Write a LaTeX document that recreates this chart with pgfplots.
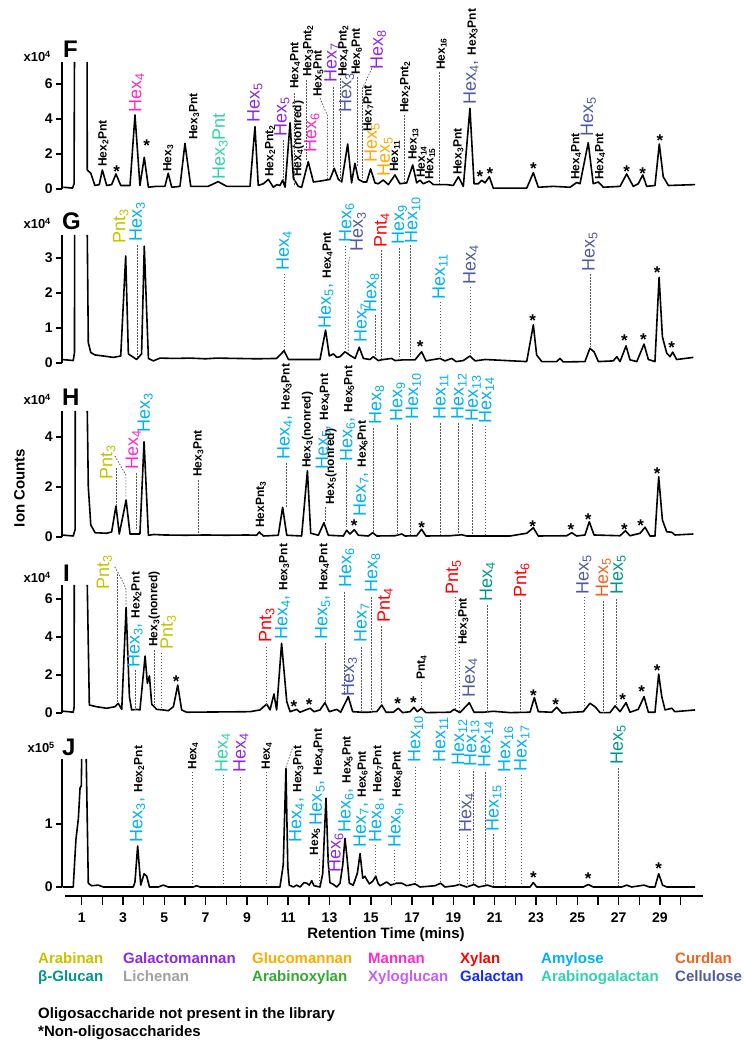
\documentclass[border=0pt]{standalone}
\usepackage{fontspec}
\setmainfont{Liberation Sans}
\usepackage{pgfplots}
\pgfplotsset{compat=1.18}
\definecolor{arab}{RGB}{195,195,0}
\definecolor{galm}{RGB}{140,40,230}
\definecolor{glum}{RGB}{255,170,0}
\definecolor{mann}{RGB}{255,40,200}
\definecolor{xyl}{RGB}{255,0,0}
\definecolor{amy}{RGB}{0,176,240}
\definecolor{curd}{RGB}{240,100,30}
\definecolor{bglu}{RGB}{0,150,140}
\definecolor{lich}{RGB}{160,160,160}
\definecolor{arx}{RGB}{50,170,50}
\definecolor{xyg}{RGB}{200,90,255}
\definecolor{galt}{RGB}{20,40,255}
\definecolor{arg}{RGB}{50,210,170}
\definecolor{cell}{RGB}{80,90,160}
\newcommand{\hx}[1]{Hex\textsubscript{#1}}
\newcommand{\pnt}[1]{Pnt\textsubscript{#1}}
\newcommand{\smf}{\bfseries\fontsize{12bp}{12bp}\selectfont}
\tikzset{
 sl/.style={rotate=90, anchor=west, inner sep=0pt, font=\bfseries\fontsize{12bp}{12bp}\selectfont},
 lg/.style={rotate=90, anchor=west, inner sep=0pt, font=\fontsize{18bp}{18bp}\selectfont},
 st/.style={inner sep=0pt, yshift=-3.5bp, font=\bfseries\fontsize{17bp}{17bp}\selectfont},
 ld/.style={gray!70!black, line width=0.7bp, dash pattern=on 1.6bp off 1.4bp},
}
\newcommand{\SL}[3]{\node[sl] at (axis cs:#1,#2) {#3};}
\newcommand{\LG}[4]{\node[lg,text=#1] at (axis cs:#2,#3) {#4};}
\newcommand{\MX}[5]{\node[lg,text=#1] at (axis cs:#2,#3) {#4, {\smf\color{black}#5}};}
\newcommand{\ST}[2]{\node[st] at (axis cs:#1,#2) {*};}
\newcommand{\VL}[3]{\draw[ld] (axis cs:#1,#2) -- (axis cs:#1,#3);}
\pgfplotsset{
 pan/.style={
  scale only axis, width=641.2bp, xmin=0.05, xmax=31.1, ymin=0,
  axis y line=left, axis x line=none, clip=false, xtick=\empty,
  y axis line style={-, line width=1.5bp},
  tick align=outside, major tick length=6bp,
  tick style={line width=1.5bp, black},
  yticklabel style={font=\bfseries\fontsize{14bp}{14bp}\selectfont},
  anchor=south west,
 },
 tr/.style={black, line width=1.6bp, mark=none, line join=round},
}
\begin{document}
\begin{tikzpicture}
\path[use as bounding box] (0,0) rectangle (744bp,1050bp);

% ---------------- F ----------------
\begin{axis}[pan, at={(62.08bp,861bp)}, height=127bp, ymax=7.26, ytick={0,2,4,6}, yticklabels={0,2,4,6}]
\addplot[tr] coordinates {(0.11,0.1) (0.56,0.05) (0.63,0.3) (0.65,7.26)};
\addplot[tr] coordinates {(1.26,7.26) (1.27,1.08) (1.44,0.9) (1.64,0.2) (1.85,0.25) (2.0,1.09) (2.21,0.2) (2.45,0.25) (2.66,0.86) (2.89,0.2) (3.34,0.2) (3.58,4.23) (3.82,0.2) (4.03,1.81) (4.23,0.1) (4.6,0.15) (5.03,0.15) (5.19,0.9) (5.36,0.1) (5.76,0.15) (6.0,2.61) (6.28,0.15) (7.12,0.15) (7.61,0.42) (8.02,0.15) (9.15,0.15) (9.39,3.56) (9.55,0.2) (9.8,0.3) (10.04,0.55) (10.28,0.1) (10.45,0.25) (10.6,0.2) (10.73,0.5) (10.85,0.1) (11.09,3.79) (11.25,0.6) (11.49,0.15) (11.65,0.1) (11.97,1.56) (12.22,0.4) (12.54,0.45) (13.02,0.55) (13.23,1.18) (13.43,0.55) (13.59,0.4) (13.88,2.57) (14.07,0.35) (14.23,1.47) (14.4,0.55) (14.64,0.4) (14.8,0.4) (14.99,1.15) (15.2,0.35) (15.36,0.3) (15.6,0.51) (15.85,0.25) (16.17,0.8) (16.41,0.3) (16.74,0.35) (17.03,1.37) (17.22,0.35) (17.38,0.5) (17.54,0.3) (17.83,0.45) (18.03,0.25) (18.68,0.25) (18.99,0.2) (19.24,0.7) (19.48,0.15) (19.8,4.61) (20.0,0.3) (20.21,0.3) (20.37,0.5) (20.53,0.35) (20.74,0.7) (20.93,0.05) (22.55,0.05) (22.87,0.93) (23.11,0.1) (23.84,0.15) (24.65,0.1) (24.97,0.37) (25.13,0.3) (25.53,2.65) (25.77,0.3) (26.02,0.4) (26.26,0.1) (27.07,0.15) (27.39,0.86) (27.71,0.15) (27.95,0.3) (28.17,0.8) (28.36,0.15) (28.76,0.2) (28.97,2.57) (29.16,0.7) (29.41,0.2) (30.7,0.25)};
\SL{2.05}{1.26}{\hx{2}Pnt}
\ST{2.69}{1.2}
\LG{mann}{3.66}{4.34}{\hx{4}}
\ST{4.15}{2.69}
\SL{5.19}{0.97}{\hx{3}}
\SL{6.45}{2.8}{\hx{3}Pnt}
\LG{arg}{7.7}{0.51}{\hx{3}Pnt}
\LG{galm}{9.39}{3.77}{\hx{5}}
\SL{10.12}{0.69}{\hx{2}\pnt{2}}
\LG{galm}{10.69}{2.97}{\hx{5}}
\VL{10.75}{2.8}{0.4}
\SL{11.49}{0.69}{\hx{4}(nonred)}
\SL{11.33}{5.71}{\hx{4}Pnt}
\VL{11.3}{5.49}{0.23}
\LG{mann}{12.14}{2.06}{\hx{6}}
\SL{11.97}{6.4}{\hx{3}\pnt{2}}
\VL{11.86}{6.23}{1.66}
\SL{12.46}{5.26}{\hx{5}Pnt}
\draw[ld] (axis cs:12.54,5.2) -- (axis cs:12.9,4.2) -- (axis cs:12.9,0.45);
\LG{galm}{13.11}{6.06}{\hx{7}}
\VL{13.18}{5.83}{1.26}
\SL{13.67}{6.4}{\hx{4}\pnt{2}}
\VL{13.54}{6.34}{0.4}
\LG{cell}{13.83}{4.34}{\hx{3}}
\SL{14.32}{6.51}{\hx{6}Pnt}
\VL{14.36}{6.4}{1.26}
\LG{galm}{15.36}{6.8}{\hx{8}}
\draw[ld] (axis cs:15.05,6.9) -- (axis cs:14.6,5.75) -- (axis cs:14.6,0.6);
\SL{14.88}{3.26}{\hx{7}Pnt}
\LG{glum}{15.06}{1.49}{\hx{5}}
\LG{glum}{15.69}{0.69}{\hx{5}}
\SL{16.17}{0.97}{\hx{11}}
\SL{16.66}{4.34}{\hx{2}\pnt{2}}
\VL{16.62}{4.23}{0.34}
\SL{17.06}{1.66}{\hx{13}}
\SL{17.46}{0.63}{\hx{14}}
\SL{17.87}{0.51}{\hx{15}}
\SL{18.43}{6.8}{\hx{16}}
\VL{18.32}{6.69}{0.34}
\SL{19.24}{0.8}{\hx{3}Pnt}
\MX{cell}{19.85}{4.8}{\hx{4}}{\hx{3}Pnt}
\ST{20.29}{0.91}
\ST{20.77}{1.09}
\ST{22.87}{1.37}
\SL{24.94}{0.51}{\hx{4}Pnt}
\LG{cell}{25.53}{2.97}{\hx{5}}
\SL{26.1}{0.51}{\hx{4}Pnt}
\ST{27.39}{1.2}
\ST{28.17}{1.09}
\ST{29.0}{2.97}
\end{axis}

% ---------------- G ----------------
\begin{axis}[pan, at={(62.08bp,687bp)}, height=128bp, ymax=3.66, ytick={0,1,2,3}, yticklabels={0,1,2,3}]
\addplot[tr] coordinates {(0.03,0.1) (0.59,0.07) (0.65,0.3) (0.66,3.66)};
\addplot[tr] coordinates {(1.27,3.66) (1.32,0.58) (1.44,0.3) (1.64,0.23) (2.05,0.2) (2.53,0.16) (2.89,0.2) (3.13,3.06) (3.26,0.26) (3.66,0.1) (3.9,0.26) (4.03,3.34) (4.23,0.13) (4.47,0.06) (4.79,0.14) (5.5,0.13) (6.25,0.14) (7.0,0.12) (7.53,0.14) (8.5,0.13) (9.5,0.12) (10.44,0.13) (10.8,0.35) (11.01,0.1) (12.54,0.1) (12.81,0.94) (12.99,0.2) (13.19,0.26) (13.35,0.16) (13.51,0.18) (13.75,0.32) (13.99,0.22) (14.24,0.13) (14.44,0.45) (14.64,0.13) (14.96,0.1) (15.12,0.18) (15.36,0.07) (15.61,0.1) (16.01,0.13) (16.17,0.07) (16.57,0.09) (16.82,0.09) (17.14,0.09) (17.46,0.32) (17.67,0.06) (17.95,0.09) (18.35,0.13) (18.59,0.06) (18.92,0.13) (19.13,0.04) (19.48,0.07) (19.8,0.2) (20.05,0.06) (20.53,0.1) (22.55,0.04) (22.87,1.09) (23.03,0.23) (23.28,0.04) (24.0,0.04) (24.16,0.13) (24.32,0.03) (25.37,0.04) (25.61,0.42) (25.81,0.32) (26.02,0.04) (26.74,0.06) (26.91,0.18) (27.07,0.04) (27.36,0.49) (27.55,0.09) (27.88,0.04) (28.23,0.54) (28.44,0.1) (28.76,0.04) (28.96,2.45) (29.12,0.75) (29.33,0.28) (29.49,0.18) (29.62,0.31) (29.81,0.1) (30.62,0.16)};
\LG{arab}{2.89}{3.42}{\pnt{3}}
\LG{amy}{3.69}{3.47}{\hx{3}}
\VL{3.71}{3.37}{0.17}
\LG{amy}{10.8}{2.63}{\hx{4}}
\VL{10.8}{2.55}{0.37}
\MX{amy}{12.83}{0.99}{\hx{5}}{\hx{4}Pnt}
\LG{amy}{13.83}{3.43}{\hx{6}}
\VL{13.75}{3.35}{0.3}
\LG{cell}{14.39}{3.17}{\hx{3}}
\draw[ld] (axis cs:13.99,3.04) -- (axis cs:13.91,2.85) -- (axis cs:13.91,0.28);
\LG{amy}{14.56}{0.58}{\hx{7}}
\LG{amy}{15.04}{1.43}{\hx{8}}
\VL{15.2}{1.37}{0.17}
\LG{xyl}{15.53}{3.29}{\pnt{4}}
\VL{15.53}{3.23}{0.14}
\LG{amy}{16.38}{3.37}{\hx{9}}
\VL{16.38}{3.29}{0.17}
\LG{amy}{17.03}{3.42}{\hx{10}}
\VL{16.93}{3.37}{0.17}
\LG{amy}{18.35}{1.8}{\hx{11}}
\VL{18.35}{1.75}{0.18}
\LG{cell}{19.84}{2.23}{\hx{4}}
\VL{19.84}{2.18}{0.28}
\LG{cell}{25.61}{2.6}{\hx{5}}
\VL{25.61}{2.54}{0.47}
\ST{17.39}{0.56}
\ST{22.84}{1.31}
\ST{27.28}{0.73}
\ST{28.2}{0.78}
\ST{28.87}{2.69}
\ST{29.57}{0.54}
\end{axis}

% ---------------- H ----------------
\begin{axis}[pan, at={(62.08bp,513bp)}, height=126bp, ymax=5.04, ytick={0,2,4}, yticklabels={0,2,4}]
\addplot[tr] coordinates {(0.03,0.08) (0.59,0.04) (0.68,0.3) (0.69,5.04)};
\addplot[tr] coordinates {(1.27,5.04) (1.32,2.01) (1.44,0.48) (1.65,0.17) (2.21,0.15) (2.45,0.2) (2.66,1.24) (2.82,0.12) (3.15,1.48) (3.34,0.12) (3.82,0.12) (4.02,3.81) (4.23,0.07) (4.5,0.1) (5.0,0.08) (6.0,0.07) (7.0,0.08) (8.0,0.07) (9.0,0.08) (9.47,0.07) (9.6,0.2) (9.8,0.04) (10.52,0.07) (10.73,1.19) (10.93,0.07) (11.65,0.04) (11.93,2.65) (12.09,0.15) (12.46,0.07) (12.73,0.57) (12.94,0.07) (13.67,0.04) (13.83,0.27) (13.99,0.12) (14.2,0.29) (14.4,0.07) (14.88,0.04) (15.09,0.17) (15.29,0.04) (16.17,0.05) (16.5,0.12) (16.66,0.04) (17.22,0.05) (17.46,0.31) (17.67,0.04) (18.84,0.05) (19.4,0.09) (19.64,0.04) (21.74,0.04) (22.55,0.15) (22.87,0.37) (23.11,0.04) (24.49,0.05) (24.73,0.17) (24.97,0.04) (25.37,0.08) (25.58,0.61) (25.81,0.08) (27.07,0.05) (27.33,0.25) (27.55,0.05) (28.04,0.15) (28.28,0.39) (28.52,0.04) (28.76,0.04) (28.94,2.41) (29.12,0.68) (29.33,0.21) (29.57,0.19) (29.73,0.08) (30.62,0.12)};
\LG{arab}{2.26}{2.28}{\pnt{3}}
\VL{2.7}{2.76}{1.3}
\draw[ld] (axis cs:2.61,3.24) -- (axis cs:3.14,2.48) -- (axis cs:3.14,1.55);
\LG{mann}{3.5}{2.68}{\hx{4}}
\VL{3.63}{2.55}{0.28}
\LG{amy}{4.07}{4.16}{\hx{3}}
\SL{6.65}{2.4}{\hx{3}Pnt}
\VL{6.65}{2.28}{0.08}
\SL{9.68}{0.36}{Hex\pnt{3}}
\MX{amy}{10.84}{3.08}{\hx{4}}{\hx{3}Pnt}
\VL{10.89}{2.96}{1.2}
\SL{11.93}{2.76}{\hx{3}(nonred)}
\MX{amy}{12.7}{2.68}{\hx{5}}{\hx{4}Pnt}
\SL{13.07}{1.28}{\hx{5}(nonred)}
\VL{12.78}{1.2}{0.62}
\MX{amy}{13.88}{3.0}{\hx{6}}{\hx{5}Pnt}
\VL{13.83}{2.96}{0.4}
\MX{amy}{14.53}{0.8}{\hx{7}}{\hx{6}Pnt}
\ST{14.19}{0.61}
\LG{amy}{15.28}{4.48}{\hx{8}}
\VL{15.12}{4.36}{0.16}
\LG{amy}{16.3}{4.6}{\hx{9}}
\VL{16.3}{4.48}{0.08}
\LG{amy}{17.06}{4.68}{\hx{10}}
\VL{16.93}{4.56}{0.08}
\LG{amy}{18.39}{4.68}{\hx{11}}
\VL{18.38}{4.56}{0.08}
\LG{amy}{19.27}{4.68}{\hx{12}}
\VL{19.22}{4.56}{0.08}
\LG{amy}{19.96}{4.61}{\hx{13}}
\VL{19.9}{4.5}{0.08}
\LG{amy}{20.61}{4.55}{\hx{14}}
\VL{20.53}{4.45}{0.08}
\ST{17.46}{0.52}
\ST{22.84}{0.55}
\ST{24.69}{0.45}
\ST{25.53}{0.85}
\ST{27.28}{0.45}
\ST{28.07}{0.61}
\ST{28.87}{2.68}
\end{axis}

% ---------------- I ----------------
\begin{axis}[pan, at={(62.08bp,337bp)}, height=128bp, ymax=6.74, ytick={0,2,4,6}, yticklabels={0,2,4,6}]
\addplot[tr] coordinates {(0.03,0.1) (0.35,0.07) (0.59,0.04) (0.63,0.3) (0.64,6.74)};
\addplot[tr] coordinates {(1.27,6.74) (1.37,0.42) (1.72,0.33) (2.21,0.25) (2.61,0.33) (2.77,0.51) (2.94,0.19) (3.15,5.56) (3.31,0.86) (3.42,0.16) (3.66,0.19) (3.82,0.16) (4.07,3.0) (4.18,1.56) (4.28,1.95) (4.39,0.47) (4.63,0.19) (4.95,0.16) (5.19,0.12) (5.44,0.33) (5.65,1.47) (5.84,0.16) (6.08,0.04) (9.15,0.07) (9.63,0.16) (9.96,0.47) (10.12,0.16) (10.31,1.0) (10.44,0.16) (10.68,3.67) (10.93,0.6) (11.09,0.07) (11.41,0.19) (11.57,0.04) (12.06,0.25) (12.25,0.07) (12.54,0.16) (12.78,0.54) (12.99,0.07) (13.35,0.19) (13.54,0.04) (13.91,0.86) (14.12,0.07) (14.56,0.04) (14.88,0.04) (15.12,0.07) (15.29,0.07) (15.53,0.42) (15.74,0.04) (16.09,0.04) (16.33,0.25) (16.54,0.02) (16.9,0.07) (17.09,0.3) (17.25,0.07) (17.46,0.25) (17.67,0.02) (18.84,0.04) (19.03,0.19) (19.32,0.02) (19.77,0.54) (20.0,0.04) (20.45,0.04) (20.93,0.09) (21.74,0.02) (22.71,0.04) (22.92,0.81) (23.11,0.07) (23.76,0.04) (24.0,0.3) (24.25,0.0) (25.29,0.07) (25.61,0.51) (25.86,0.33) (26.1,0.02) (26.58,0.02) (26.83,0.37) (27.07,0.07) (27.36,0.54) (27.55,0.04) (27.95,0.19) (28.23,0.86) (28.44,0.04) (28.76,0.04) (28.94,2.05) (29.09,0.86) (29.25,0.16) (29.57,0.25) (29.73,0.07) (30.7,0.16)};
\LG{arab}{2.1}{6.47}{\pnt{3}}
\draw[ld] (axis cs:2.6,7.7) -- (axis cs:3.0,6.9) -- (axis cs:3.15,6.5) -- (axis cs:3.15,5.7);
\VL{2.72}{7.3}{0.53}
\MX{amy}{3.58}{2.37}{\hx{3}}{\hx{2}Pnt}
\VL{3.58}{2.26}{0.16}
\SL{4.52}{3.47}{\hx{3}(nonred)}
\VL{4.51}{3.32}{0.42}
\LG{arab}{5.19}{3.32}{\pnt{3}}
\VL{4.87}{3.18}{0.2}
\ST{5.57}{1.86}
\LG{xyl}{9.96}{3.68}{\pnt{3}}
\VL{9.96}{3.49}{0.42}
\MX{amy}{10.73}{3.84}{\hx{4}}{\hx{3}Pnt}
\ST{11.28}{0.54}
\ST{12.02}{0.6}
\MX{amy}{12.67}{3.84}{\hx{5}}{\hx{4}Pnt}
\VL{12.78}{3.68}{0.58}
\LG{amy}{13.83}{6.58}{\hx{6}}
\VL{13.72}{6.37}{0.95}
\LG{cell}{13.96}{0.84}{\hx{3}}
\LG{amy}{14.56}{3.68}{\hx{7}}
\VL{14.56}{3.47}{0.05}
\LG{amy}{15.09}{6.32}{\hx{8}}
\VL{15.04}{6.1}{0.05}
\LG{xyl}{15.69}{4.74}{\pnt{4}}
\VL{15.53}{4.58}{0.42}
\ST{16.3}{0.65}
\ST{17.06}{0.72}
\SL{17.46}{1.74}{\pnt{4}}
\VL{17.43}{1.65}{0.33}
\LG{xyl}{19.0}{6.21}{\pnt{5}}
\VL{19.08}{6.12}{0.16}
\SL{19.48}{3.58}{\hx{3}Pnt}
\VL{19.28}{3.49}{0.16}
\LG{cell}{19.8}{0.79}{\hx{4}}
\LG{bglu}{20.64}{5.84}{\hx{4}}
\VL{20.66}{5.68}{0.05}
\LG{xyl}{22.31}{6.05}{\pnt{6}}
\VL{22.23}{5.95}{0.05}
\ST{22.87}{1.12}
\ST{23.95}{0.6}
\LG{cell}{25.32}{6.21}{\hx{5}}
\VL{25.32}{6.12}{0.16}
\LG{curd}{26.26}{6.05}{\hx{5}}
\VL{26.26}{5.9}{0.05}
\LG{bglu}{26.98}{6.21}{\hx{5}}
\VL{26.91}{6.0}{0.44}
\ST{27.2}{0.89}
\ST{28.12}{1.3}
\ST{28.87}{2.4}
\end{axis}

% ---------------- J ----------------
\begin{axis}[pan, at={(62.08bp,163bp)}, height=128bp, ymax=2.03, ytick={0,1}, yticklabels={0,1}]
\addplot[tr] coordinates {(0.08,0.0) (0.59,0.0) (0.72,0.75) (0.84,1.09) (0.92,1.57) (0.98,1.6) (1.0,2.03)};
\addplot[tr] coordinates {(1.22,2.03) (1.32,0.06) (1.48,0.02) (1.8,0.03) (2.05,0.0) (3.5,0.0) (3.58,0.08) (3.71,0.65) (3.86,0.03) (4.02,0.21) (4.15,0.17) (4.28,0.0) (4.71,0.0) (4.95,0.03) (5.19,0.0) (6.4,0.0) (6.57,0.02) (6.73,0.0) (10.6,0.0) (10.76,0.35) (10.89,1.88) (10.98,0.32) (11.05,0.03) (11.25,0.0) (11.41,0.03) (11.57,0.0) (11.77,0.07) (11.9,0.06) (12.02,0.03) (12.14,0.1) (12.25,0.02) (12.54,0.0) (12.67,0.21) (12.83,1.41) (12.94,0.38) (13.02,0.07) (13.19,0.04) (13.35,0.0) (13.51,0.06) (13.64,0.35) (13.75,0.77) (13.86,0.43) (13.96,0.06) (14.15,0.03) (14.35,0.22) (14.48,0.53) (14.61,0.14) (14.72,0.17) (14.8,0.12) (14.93,0.05) (15.09,0.09) (15.24,0.17) (15.36,0.05) (15.45,0.02) (15.77,0.08) (15.96,0.03) (16.25,0.06) (16.5,0.06) (16.74,0.02) (17.14,0.05) (17.38,0.0) (18.11,0.02) (18.38,0.06) (18.59,0.0) (19.08,0.02) (19.29,0.04) (19.64,0.0) (20.0,0.04) (20.21,0.0) (20.53,0.02) (20.64,0.03) (20.93,0.0) (22.71,0.0) (22.87,0.07) (23.03,0.0) (25.29,0.0) (25.53,0.04) (25.77,0.0) (27.15,0.0) (27.39,0.03) (27.63,0.0) (28.04,0.02) (28.23,0.03) (28.49,0.0) (28.76,0.0) (28.94,0.21) (29.13,0.03) (29.33,0.0) (30.7,0.0)};
\MX{amy}{3.71}{0.71}{\hx{3}}{\hx{2}Pnt}
\SL{6.4}{1.86}{\hx{4}}
\VL{6.37}{1.83}{0.03}
\LG{arg}{7.83}{1.81}{\hx{4}}
\VL{7.86}{1.78}{0.03}
\LG{galm}{8.7}{1.81}{\hx{4}}
\VL{8.7}{1.75}{0.03}
\SL{9.96}{1.86}{\hx{4}}
\VL{9.96}{1.83}{0.03}
\MX{amy}{11.41}{0.71}{\hx{4}}{\hx{3}Pnt}
\draw[ld] (axis cs:10.89,1.9) -- (axis cs:11.2,2.2);
\MX{amy}{12.4}{0.98}{\hx{5}}{\hx{4}Pnt}
\SL{12.3}{0.5}{\hx{5}}
\VL{12.5}{0.45}{0.05}
\LG{galm}{13.31}{0.22}{\hx{6}}
\MX{amy}{13.8}{0.86}{\hx{6}}{\hx{5}Pnt}
\MX{amy}{14.53}{0.63}{\hx{7}}{\hx{6}Pnt}
\MX{amy}{15.28}{0.71}{\hx{8}}{\hx{7}Pnt}
\VL{15.2}{0.67}{0.16}
\MX{amy}{16.22}{0.63}{\hx{9}}{\hx{8}Pnt}
\VL{16.13}{0.59}{0.06}
\LG{amy}{17.17}{1.97}{\hx{10}}
\VL{17.17}{1.91}{0.08}
\LG{amy}{18.38}{1.97}{\hx{11}}
\VL{18.38}{1.91}{0.06}
\LG{amy}{19.29}{1.92}{\hx{12}}
\VL{19.29}{1.86}{0.04}
\LG{amy}{19.89}{1.9}{\hx{13}}
\VL{19.96}{1.84}{0.04}
\LG{amy}{20.56}{1.89}{\hx{14}}
\VL{20.56}{1.82}{0.03}
\LG{cell}{19.64}{0.86}{\hx{4}}
\VL{19.66}{0.83}{0.02}
\LG{amy}{20.96}{0.87}{\hx{15}}
\VL{20.93}{0.84}{0.02}
\LG{amy}{21.53}{1.81}{\hx{16}}
\VL{21.53}{1.75}{0.02}
\LG{amy}{22.31}{1.83}{\hx{17}}
\VL{22.31}{1.78}{0.02}
\LG{bglu}{26.98}{1.94}{\hx{5}}
\VL{27.0}{1.88}{0.02}
\ST{22.87}{0.21}
\ST{25.53}{0.18}
\ST{28.94}{0.35}
\end{axis}

% ---------------- bottom x axis ----------------
\begin{axis}[scale only axis, width=638.1bp, height=10bp, at={(65.18bp,154bp)}, anchor=south west,
  xmin=0.2, xmax=31.1, ymin=0, ymax=1,
  axis x line=bottom, axis y line=none,
  x axis line style={-, line width=2bp},
  xtick={1,...,30},
  xticklabels={1,,3,,5,,7,,9,,11,,13,,15,,17,,19,,21,,23,,25,,27,,29,},
  tick align=outside, major tick length=9bp, tick style={line width=1.5bp, black},
  xticklabel style={yshift=-4bp, font=\bfseries\fontsize{14bp}{14bp}\selectfont}]
\end{axis}

% ---------------- texts ----------------
\node[anchor=base west, inner sep=0pt, font=\bfseries\fontsize{24bp}{24bp}\selectfont] at (63bp,992bp) {F};
\node[anchor=base west, inner sep=0pt, font=\bfseries\fontsize{24bp}{24bp}\selectfont] at (62bp,820bp) {G};
\node[anchor=base west, inner sep=0pt, font=\bfseries\fontsize{24bp}{24bp}\selectfont] at (62bp,644bp) {H};
\node[anchor=base west, inner sep=0pt, font=\bfseries\fontsize{24bp}{24bp}\selectfont] at (63bp,468bp) {I};
\node[anchor=base west, inner sep=0pt, font=\bfseries\fontsize{24bp}{24bp}\selectfont] at (62bp,294bp) {J};
\node[anchor=base east, inner sep=0pt, font=\bfseries\fontsize{13bp}{13bp}\selectfont] at (51bp,988bp) {x10\textsuperscript{4}};
\node[anchor=base east, inner sep=0pt, font=\bfseries\fontsize{13bp}{13bp}\selectfont] at (51bp,821bp) {x10\textsuperscript{4}};
\node[anchor=base east, inner sep=0pt, font=\bfseries\fontsize{13bp}{13bp}\selectfont] at (51bp,645bp) {x10\textsuperscript{4}};
\node[anchor=base east, inner sep=0pt, font=\bfseries\fontsize{13bp}{13bp}\selectfont] at (51bp,467bp) {x10\textsuperscript{4}};
\node[anchor=base east, inner sep=0pt, font=\bfseries\fontsize{13bp}{13bp}\selectfont] at (55bp,297bp) {x10\textsuperscript{5}};
\node[rotate=90, anchor=center, inner sep=0pt, font=\bfseries\fontsize{15bp}{15bp}\selectfont] at (19.5bp,562bp) {Ion Counts};
\node[anchor=base, inner sep=0pt, font=\bfseries\fontsize{15bp}{15bp}\selectfont] at (386bp,111bp) {Retention Time (mins)};
\begin{scope}[every node/.style={anchor=base west, inner sep=0pt, font=\bfseries\fontsize{15bp}{15bp}\selectfont}]
\node[text=arab] at (38bp,86.7bp) {Arabinan};
\node[text=galm] at (123bp,86.7bp) {Galactomannan};
\node[text=glum] at (252bp,86.7bp) {Glucomannan};
\node[text=mann] at (368bp,86.7bp) {Mannan};
\node[text=xyl] at (460bp,86.7bp) {Xylan};
\node[text=amy] at (541bp,86.7bp) {Amylose};
\node[text=curd] at (675bp,86.7bp) {Curdlan};
\node[text=bglu] at (38bp,68.3bp) {β-Glucan};
\node[text=lich] at (123bp,68.3bp) {Lichenan};
\node[text=arx] at (252bp,68.3bp) {Arabinoxylan};
\node[text=xyg] at (368bp,68.3bp) {Xyloglucan};
\node[text=galt] at (460bp,68.3bp) {Galactan};
\node[text=arg] at (541bp,68.3bp) {Arabinogalactan};
\node[text=cell] at (675bp,68.3bp) {Cellulose};
\node at (38bp,31.7bp) {Oligosaccharide not present in the library};
\node at (38bp,14bp) {*Non-oligosaccharides};
\end{scope}
\end{tikzpicture}
\end{document}
